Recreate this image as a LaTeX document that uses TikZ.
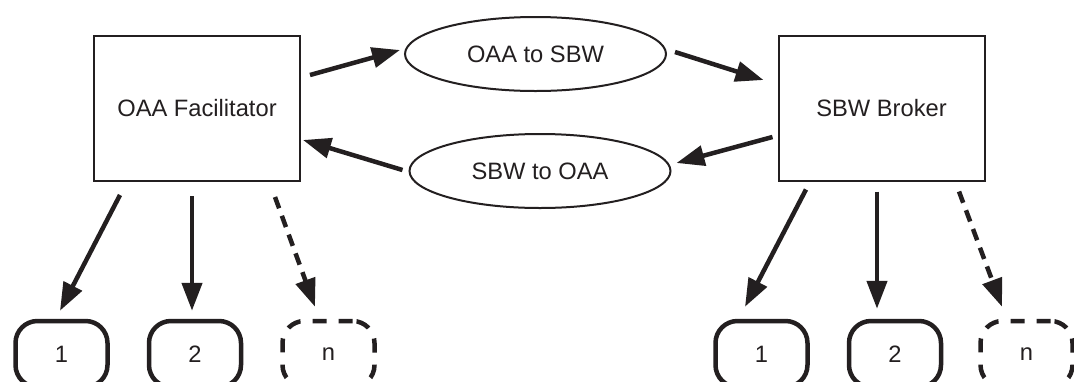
\documentclass[tikz,border=0pt]{standalone}
\usepackage{fontspec}
\setmainfont{Liberation Sans}
\usetikzlibrary{arrows.meta,shapes.geometric}
\definecolor{ink}{HTML}{231F20}
\begin{document}
\begin{tikzpicture}[x=1pt,y=-1pt,
  every node/.style={font=\fontsize{23.7}{28}\selectfont, text=ink, inner sep=0pt},
  mainbox/.style={draw=ink, line width=2pt, rectangle, minimum width=206pt, minimum height=145pt},
  conv/.style={draw=ink, line width=2pt, ellipse, minimum width=261pt, minimum height=74pt},
  agent/.style={draw=ink, line width=4.5pt, rounded corners=22pt, rectangle, minimum width=92pt, minimum height=66pt},
  agentdash/.style={agent, dash pattern=on 14pt off 12pt},
  arr/.style={draw=ink, line width=4.5pt, -{Triangle[length=28pt,width=20pt]}},
  arrdash/.style={arr, dash pattern=on 12pt off 8pt}
]
\useasboundingbox (0,0) rectangle (1074,381);
\clip (0,0) rectangle (1074,381);
\fill[white] (0,0) rectangle (1074,381);

\node[mainbox] (L) at (197,108.5) {OAA Facilitator};
\node[mainbox] (R) at (881.5,108) {SBW Broker};
\node[conv] (e1) at (535.5,54) {OAA to SBW};
\node[conv] (e2) at (540,171) {SBW to OAA};

\node[agent] (lb1) at (61.5,354) {1};
\node[agent] (lb2) at (195,354) {2};
\node[agentdash] (lbn) at (328.5,354) {n};
\node[agent] (rb1) at (761.5,354) {1};
\node[agent] (rb2) at (895,354) {2};
\node[agentdash] (rbn) at (1026.5,354) {n};

\draw[arr] ([shift={(9,-33.5)}]L.east) -- ([shift={(-4,-4)}]e1.west);
\draw[arr] ([shift={(8,-2)}]e1.east) -- ([shift={(-14,-28)}]R.west);
\draw[arr] ([shift={(-5,29)}]R.west) -- ([shift={(5,-8)}]e2.east);
\draw[arr] ([shift={(-6,-1)}]e2.west) -- ([shift={(2,31.5)}]L.east);

\draw[arr] ([shift={(-77,13)}]L.south) -- ([shift={(-1.5,-8)}]lb1.north);
\draw[arr] ([shift={(-5,14)}]L.south) -- ([shift={(-3,-8)}]lb2.north);
\draw[arrdash] ([shift={(78,15)}]L.south) -- ([shift={(-13.5,-12)}]lbn.north);

\draw[arr] ([shift={(-75.5,8)}]R.south) -- ([shift={(-16.5,-12)}]rb1.north);
\draw[arr] ([shift={(-4.5,10)}]R.south) -- ([shift={(-18,-10)}]rb2.north);
\draw[arrdash] ([shift={(77.5,10)}]R.south) -- ([shift={(-24.5,-12)}]rbn.north);
\end{tikzpicture}
\end{document}
